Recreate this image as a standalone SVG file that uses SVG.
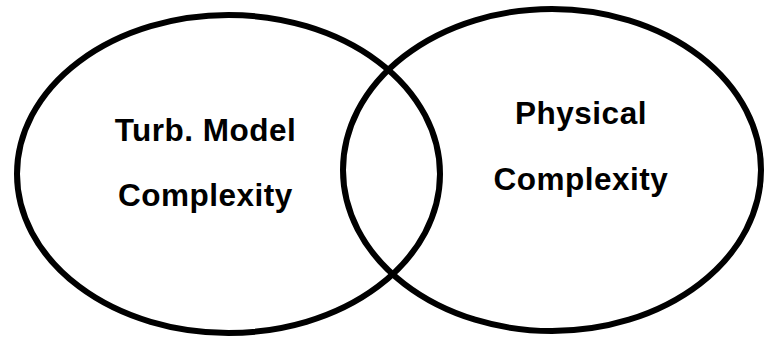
<svg xmlns="http://www.w3.org/2000/svg" width="765" height="337" viewBox="0 0 765 337">
<style>
.set{fill:none;stroke:#000;stroke-width:6}
.lbl{font-family:"Liberation Sans",Arial,sans-serif;font-weight:bold;font-size:31.5px;letter-spacing:0.5px;fill:#000;text-anchor:middle}
</style>
<rect width="765" height="337" fill="#fff"/>
<g id="connectors"></g>
<g id="turb">
<ellipse class="set" cx="228.5" cy="174" rx="211.5" ry="159"/>
<text class="lbl" x="205.5" y="141">Turb. Model</text>
<text class="lbl" x="205.5" y="206">Complexity</text>
</g>
<g id="physical">
<ellipse class="set" cx="552" cy="170" rx="209" ry="161"/>
<text class="lbl" x="581" y="124">Physical</text>
<text class="lbl" x="581" y="190">Complexity</text>
</g>
</svg>
